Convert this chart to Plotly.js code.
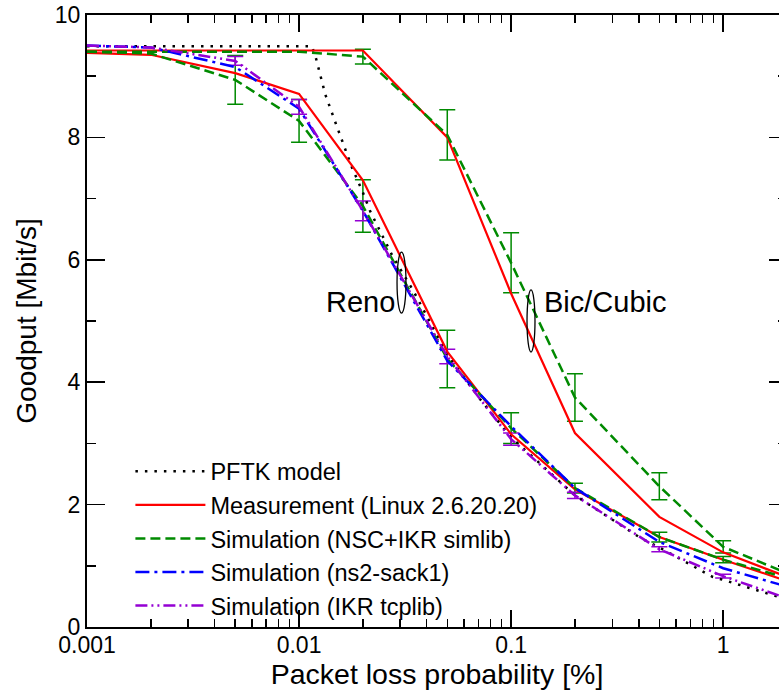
<!DOCTYPE html>
<html>
<head>
<meta charset="utf-8">
<script src="https://cdn.plot.ly/plotly-3.0.1.min.js"></script>
<style>
html, body { margin: 0; padding: 0; overflow: hidden; background: #fff; }
#chart { width: 800px; height: 691px; }
</style>
</head>
<body>
<div id="chart"></div>
<script>
// ---- data ----
var xLoss = [0.001, 0.002, 0.005, 0.01, 0.02, 0.05, 0.1, 0.2, 0.5, 1, 2];

var pftkX = [0.001, 0.002, 0.005, 0.01, 0.0115, 0.012, 0.0133, 0.015, 0.0178, 0.02, 0.0216, 0.0277, 0.0345, 0.05, 0.073, 0.1, 0.2, 0.41, 0.5, 0.89, 1, 2];
var pftkY = [9.49, 9.49, 9.49, 9.49, 9.49, 9.3, 8.7, 8.2, 7.5, 7.1, 6.8, 6.05, 5.5, 4.45, 3.68, 3.1, 2.15, 1.45, 1.3, 0.82, 0.77, 0.45];

var measReno = [9.38, 9.35, 9.05, 8.71, 7.3, 4.5, 3.15, 2.25, 1.47, 1.1, 0.75];
var measBic  = [9.42, 9.42, 9.42, 9.42, 9.42, 8.0, 5.45, 3.17, 1.8, 1.22, 0.82];

var nscReno    = [9.4, 9.37, 8.94, 8.27, 6.88, 4.38, 3.25, 2.27, 1.47, 1.1, 0.8];
var nscRenoErr = [null, null, 0.40, 0.35, 0.43, 0.47, 0.25, 0.08, 0.08, 0.05, null];
var nscBic     = [9.4, 9.4, 9.4, 9.4, 9.32, 8.04, 5.95, 3.75, 2.3, 1.31, 0.88];
var nscBicErr  = [null, null, null, null, 0.12, 0.41, 0.49, 0.39, 0.22, 0.1, null];

var ns2Reno = [9.5, 9.47, 9.15, 8.47, 6.8, 4.35, 3.28, 2.27, 1.39, 0.96, 0.66];

var ikrReno    = [9.5, 9.47, 9.25, 8.5, 6.8, 4.42, 3.07, 2.15, 1.27, 0.83, 0.47];
var ikrRenoErr = [null, null, 0.07, 0.12, 0.16, 0.12, 0.1, 0.05, 0.04, 0.03, null];

var seriesNames = ['PFTK model', 'Measurement (Linux 2.6.20.20)', 'Simulation (NSC+IKR simlib)', 'Simulation (ns2-sack1)', 'Simulation (IKR tcplib)'];
var xTickVals = [0.001, 0.01, 0.1, 1];
var xTickText = ['0.001', '0.01', '0.1', '1'];
var groupLabels = ['Reno', 'Bic/Cubic'];

// ---- styles ----
var FONT = 'Liberation Sans, Arial, Helvetica, sans-serif';
var cBlack = '#000000', cRed = '#ff0000', cGreen = '#008a00', cBlue = '#0000ff', cPurple = '#9400d3';
var dashGreen = '10px,5px';
var dashBlue = '14px,5px,3px,5px';
var dashPurple = '12px,4px,2px,4px,2px,4px';

function errTrace(xs, ys, errs, color) {
  var ex = [], ey = [], ee = [];
  for (var i = 0; i < xs.length; i++) {
    if (errs[i] !== null) { ex.push(xs[i]); ey.push(ys[i]); ee.push(errs[i]); }
  }
  return {
    x: ex, y: ey, type: 'scatter', mode: 'markers', showlegend: false, hoverinfo: 'skip',
    marker: { size: 1, color: 'rgba(0,0,0,0)' },
    error_y: { type: 'data', array: ee, visible: true, color: color, thickness: 1.5, width: 8 }
  };
}

var traces = [
  errTrace(xLoss, nscReno, nscRenoErr, cGreen),
  errTrace(xLoss, nscBic, nscBicErr, cGreen),
  errTrace(xLoss, ikrReno, ikrRenoErr, cPurple),
  { x: pftkX, y: pftkY, name: seriesNames[0], type: 'scatter', mode: 'lines',
    line: { color: cBlack, width: 2.5, dash: '2.5px,7px' } },
  { x: xLoss, y: measReno, name: seriesNames[1], legendgroup: 'meas', type: 'scatter', mode: 'lines',
    line: { color: cRed, width: 2.2 } },
  { x: xLoss, y: measBic, name: seriesNames[1], legendgroup: 'meas', showlegend: false, type: 'scatter', mode: 'lines',
    line: { color: cRed, width: 2.2 } },
  { x: xLoss, y: nscReno, name: seriesNames[2], legendgroup: 'nsc', type: 'scatter', mode: 'lines',
    line: { color: cGreen, width: 2.5, dash: dashGreen } },
  { x: xLoss, y: nscBic, name: seriesNames[2], legendgroup: 'nsc', showlegend: false, type: 'scatter', mode: 'lines',
    line: { color: cGreen, width: 2.5, dash: dashGreen } },
  { x: xLoss, y: ns2Reno, name: seriesNames[3], type: 'scatter', mode: 'lines',
    line: { color: cBlue, width: 2.5, dash: dashBlue } },
  { x: xLoss, y: ikrReno, name: seriesNames[4], type: 'scatter', mode: 'lines',
    line: { color: cPurple, width: 2.5, dash: dashPurple } }
];

var layout = {
  width: 800, height: 691,
  margin: { l: 87, r: 13, t: 15, b: 64 },
  paper_bgcolor: '#ffffff', plot_bgcolor: '#ffffff',
  font: { family: FONT, color: '#000000' },
  showlegend: true,
  legend: {
    x: 0.062, y: 0.29, xanchor: 'left', yanchor: 'top',
    bgcolor: 'rgba(0,0,0,0)', borderwidth: 0,
    font: { family: FONT, size: 23.5, color: '#000' },
    itemwidth: 70, traceorder: 'normal'
  },
  xaxis: {
    type: 'log', range: [-3, Math.log10(2)],
    showline: true, linecolor: '#000', linewidth: 2, mirror: 'allticks',
    ticks: 'inside', ticklen: 17, tickwidth: 1.5, tickcolor: '#000',
    tickmode: 'array', tickvals: xTickVals, ticktext: xTickText,
    tickfont: { family: FONT, size: 23 }, ticklabelstandoff: -4,
    minor: { dtick: 'D1', ticks: 'inside', ticklen: 8, tickwidth: 1.5, tickcolor: '#000', showgrid: false },
    showgrid: false, zeroline: false,
    title: { text: 'Packet loss probability [%]', font: { family: FONT, size: 28.5 }, standoff: 2 }
  },
  yaxis: {
    range: [0, 10],
    showline: true, linecolor: '#000', linewidth: 2, mirror: 'allticks',
    ticks: 'inside', ticklen: 18, tickwidth: 1.5, tickcolor: '#000',
    dtick: 2, tick0: 0,
    tickfont: { family: FONT, size: 23 },
    minor: { dtick: 1, ticks: 'inside', ticklen: 9, tickwidth: 1.5, tickcolor: '#000', showgrid: false },
    showgrid: false, zeroline: false,
    title: { text: 'Goodput [Mbit/s]', font: { family: FONT, size: 28 }, standoff: 10 }
  },
  annotations: [
    { xref: 'paper', yref: 'paper', x: 0.391, y: 0.531, text: groupLabels[0], showarrow: false,
      font: { family: FONT, size: 29 }, xanchor: 'center', yanchor: 'middle' },
    { xref: 'paper', yref: 'paper', x: 0.74, y: 0.531, text: groupLabels[1], showarrow: false,
      font: { family: FONT, size: 29 }, xanchor: 'center', yanchor: 'middle' }
  ],
  shapes: [
    { type: 'circle', xref: 'paper', yref: 'paper', x0: 0.4429, x1: 0.4557, y0: 0.513, y1: 0.6127,
      line: { color: '#000', width: 1.3 } },
    { type: 'circle', xref: 'paper', yref: 'paper', x0: 0.6286, x1: 0.64, y0: 0.4493, y1: 0.5507,
      line: { color: '#000', width: 1.3 } }
  ]
};

Plotly.newPlot('chart', traces, layout, { displayModeBar: false, staticPlot: true });
</script>
</body>
</html>
